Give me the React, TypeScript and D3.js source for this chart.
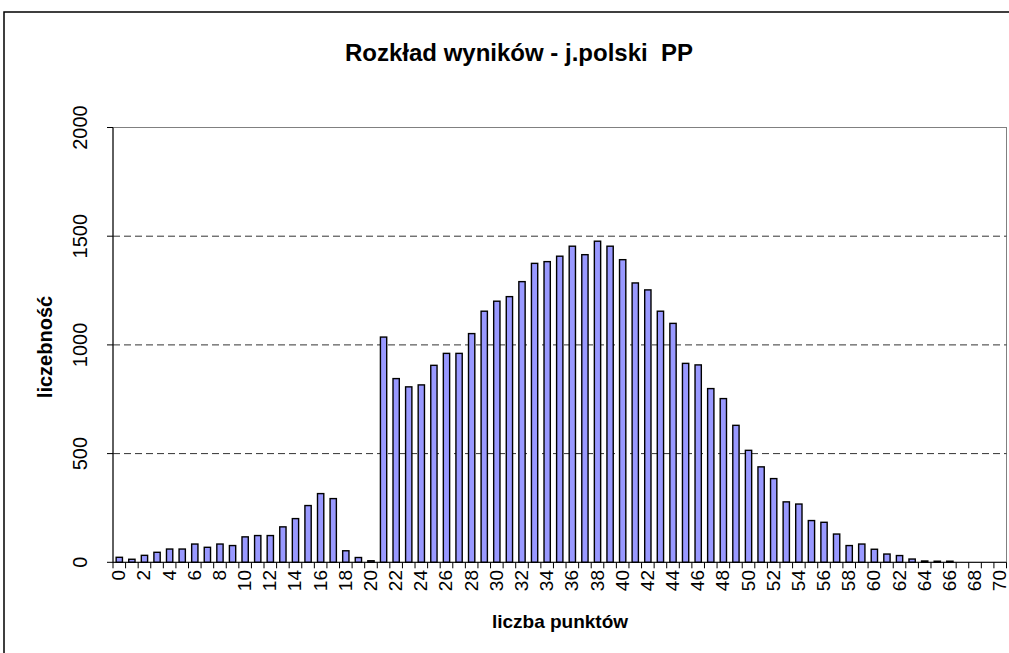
import React from "react";
import * as d3 from "d3";

const categories: number[] = d3.range(0, 71);
const counts: number[] = [
  23, 14, 32, 46, 61, 61, 84, 69, 84, 77,
  117, 123, 123, 163, 201, 261, 316, 293, 53, 22,
  7, 1036, 845, 807, 816, 906, 961, 961, 1052, 1155,
  1201, 1222, 1291, 1375, 1383, 1408, 1454, 1415, 1477, 1454,
  1392, 1285, 1253, 1155, 1099, 915, 908, 799, 753, 630,
  515, 439, 385, 278, 268, 192, 184, 130, 77, 84,
  60, 38, 31, 15, 6, 5, 5, 0, 0, 0, 0,
];
const yTicks: number[] = [0, 500, 1000, 1500, 2000];
const title = "Rozkład wyników - j.polski\u00A0 PP";
const xTitle = "liczba punktów";
const yTitle = "liczebność";

const W = 1009;
const H = 653;
const left = 113;
const right = 1006.5;
const top = 127.5;
const bottom = 562.3;
const font = "Arial, 'Liberation Sans', sans-serif";

export default function App() {
  const x = d3
    .scaleBand<number>()
    .domain(categories)
    .range([left, right])
    .paddingInner(0.5)
    .paddingOuter(0.25);
  const step = x.step();
  const y = d3.scaleLinear().domain([0, 2000]).range([bottom, top]);

  return (
    <svg
      width={W}
      height={H}
      style={{ position: "absolute", left: 0, top: 0, background: "#fff" }}
    >
      <rect x={0} y={0} width={W} height={H} fill="#fff" />
      {/* outer frame */}
      <rect x={4} y={12} width={W + 20} height={H + 20} fill="none" stroke="#000" strokeWidth={1.5} />
      <text x={519} y={61} textAnchor="middle" fontFamily={font} fontWeight="bold" fontSize={24}>
        {title}
      </text>
      {/* plot border */}
      <rect x={left} y={top} width={right - left} height={bottom - top} fill="none" stroke="#808080" strokeWidth={1} />
      {/* gridlines */}
      {yTicks
        .filter((t) => t > 0 && t < 2000)
        .map((t) => (
          <line key={t} x1={left} x2={right} y1={y(t)} y2={y(t)} stroke="#333" strokeWidth={1} strokeDasharray="7,4" />
        ))}
      {/* bars */}
      {categories.map((c, i) =>
        counts[i] > 0 ? (
          <rect
            key={c}
            x={x(c)!}
            y={y(counts[i])}
            width={x.bandwidth()}
            height={bottom - y(counts[i])}
            fill="#9999FF"
            stroke="#000"
            strokeWidth={1.4}
          />
        ) : null
      )}
      {/* axes */}
      <line x1={left} x2={left} y1={top} y2={bottom} stroke="#000" strokeWidth={1} />
      <line x1={left} x2={right} y1={bottom} y2={bottom} stroke="#000" strokeWidth={1} />
      {yTicks.map((t) => (
        <g key={t}>
          <line x1={left - 6} x2={left} y1={y(t)} y2={y(t)} stroke="#000" />
          <text
            transform={`translate(87,${y(t)}) rotate(-90)`}
            textAnchor="middle"
            fontFamily={font}
            fontSize={20}
          >
            {t}
          </text>
        </g>
      ))}
      {d3.range(0, categories.length + 1).map((k) => (
        <line key={k} x1={left + k * step} x2={left + k * step} y1={bottom} y2={bottom + 6} stroke="#000" />
      ))}
      {categories
        .filter((c) => c % 2 === 0)
        .map((c) => {
          const cx = x(c)! + x.bandwidth() / 2;
          return (
            <text
              key={c}
              transform={`translate(${cx + 6},570) rotate(-90)`}
              textAnchor="end"
              fontFamily={font}
              fontSize={19}
            >
              {c}
            </text>
          );
        })}
      <text x={560} y={628} textAnchor="middle" fontFamily={font} fontWeight="bold" fontSize={19}>
        {xTitle}
      </text>
      <text transform={`translate(52,347) rotate(-90)`} textAnchor="middle" fontFamily={font} fontWeight="bold" fontSize={20}>
        {yTitle}
      </text>
    </svg>
  );
}
